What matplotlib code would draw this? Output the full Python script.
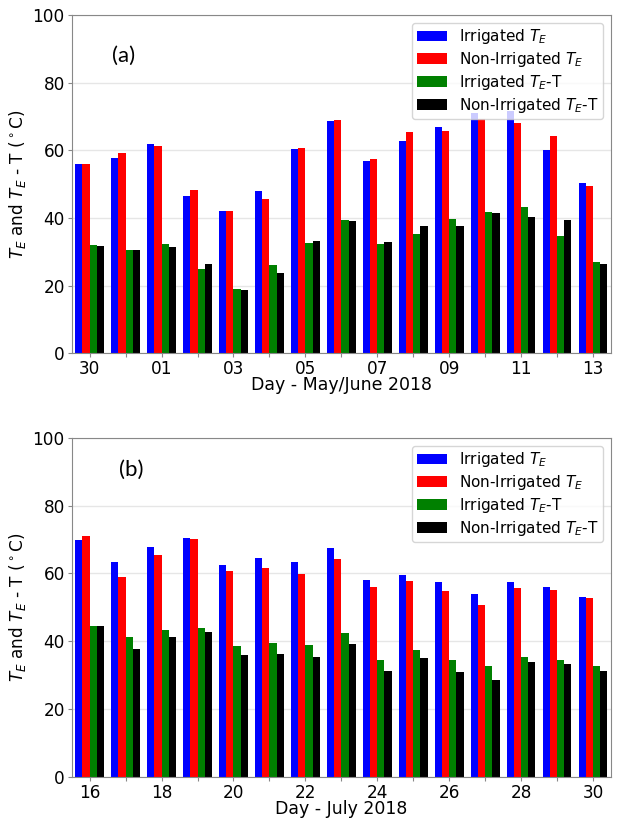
import numpy as np
import matplotlib
matplotlib.use("Agg")
import matplotlib.pyplot as plt

days_a = ["30", "31", "01", "02", "03", "04", "05", "06", "07", "08", "09", "10", "11", "12", "13"]
irr_te_a = [55.9, 57.8, 61.9, 46.6, 42.2, 47.9, 60.3, 68.7, 56.8, 62.9, 67.0, 71.1, 71.5, 60.0, 50.3]
non_te_a = [56.0, 59.3, 61.3, 48.4, 42.2, 45.6, 60.7, 69.0, 57.3, 65.5, 65.7, 69.2, 68.1, 64.3, 49.5]
irr_d_a = [31.9, 30.5, 32.4, 25.0, 19.0, 26.1, 32.7, 39.4, 32.2, 35.3, 39.6, 41.9, 43.4, 34.8, 26.9]
non_d_a = [31.7, 30.7, 31.5, 26.5, 18.7, 23.7, 33.2, 39.2, 32.9, 37.6, 37.7, 41.5, 40.2, 39.4, 26.3]

days_b = ["16", "17", "18", "19", "20", "21", "22", "23", "24", "25", "26", "27", "28", "29", "30"]
irr_te_b = [70.0, 63.3, 67.8, 70.4, 62.6, 64.5, 63.3, 67.4, 58.2, 59.5, 57.5, 53.9, 57.5, 56.1, 53.2]
non_te_b = [71.1, 59.1, 65.5, 70.3, 60.6, 61.7, 59.8, 64.3, 55.9, 57.8, 54.8, 50.8, 55.6, 55.2, 52.8]
irr_d_b = [44.5, 41.1, 43.4, 43.8, 38.7, 39.5, 38.8, 42.4, 34.4, 37.5, 34.4, 32.6, 35.4, 34.4, 32.6]
non_d_b = [44.5, 37.8, 41.2, 42.7, 36.0, 36.3, 35.2, 39.2, 31.2, 35.1, 31.0, 28.6, 33.9, 33.2, 31.3]

series_names = ["Irrigated $T_E$", "Non-Irrigated $T_E$", "Irrigated $T_E$-T", "Non-Irrigated $T_E$-T"]
colors = ["blue", "red", "green", "black"]

fig = plt.figure(figsize=(6.17, 8.18), dpi=100)
W, H = 617, 818
def add_ax(l, t, r, b):
    return fig.add_axes([l / W, 1 - b / H, (r - l) / W, (b - t) / H])

ax_a = add_ax(71.7, 15, 611, 353.4)
ax_b = add_ax(71.7, 438, 611, 776.7)

def draw(ax, days, series, xlabel, tag, tagpos):
    x = np.arange(len(days))
    w = 0.2
    for i, (vals, c, name) in enumerate(zip(series, colors, series_names)):
        ax.bar(x + (i - 1.5) * w, vals, width=w, color=c, label=name, zorder=2)
    ax.set_xlim(-0.5, len(days) - 0.5)
    ax.set_ylim(0, 100)
    ax.set_yticks([0, 20, 40, 60, 80, 100])
    ax.set_xticks(x)
    ax.set_xticklabels([d if i % 2 == 0 else "" for i, d in enumerate(days)])
    ax.tick_params(labelsize=12.2, color="#888888", length=3, pad=2)
    ax.grid(axis="y", color="#e6e6e6", linewidth=1, zorder=0)
    ax.set_axisbelow(True)
    for s in ax.spines.values():
        s.set_color("#888888")
    ax.set_xlabel(xlabel, fontsize=12.5, labelpad=-1.5)
    ax.set_ylabel("$T_E$ and $T_E$ - T ($^\\circ$C)", fontsize=12.2, labelpad=3)
    ax.text(tagpos[0], tagpos[1], tag, transform=ax.transAxes, fontsize=16,
            family="Lato", ha="center", va="center")
    ax.legend(loc="upper right", fontsize=11, framealpha=0.8, borderaxespad=0.5,
              labelspacing=0.25, borderpad=0.3)

draw(ax_a, days_a, [irr_te_a, non_te_a, irr_d_a, non_d_a], "Day - May/June 2018", "(a)",
     ((124 - 71.7) / (611 - 71.7), (353.4 - 56) / (353.4 - 15)))
draw(ax_b, days_b, [irr_te_b, non_te_b, irr_d_b, non_d_b], "Day - July 2018", "(b)",
     ((131 - 71.7) / (611 - 71.7), (776.7 - 470) / (776.7 - 438)))

fig.savefig("out.png", dpi=100)
